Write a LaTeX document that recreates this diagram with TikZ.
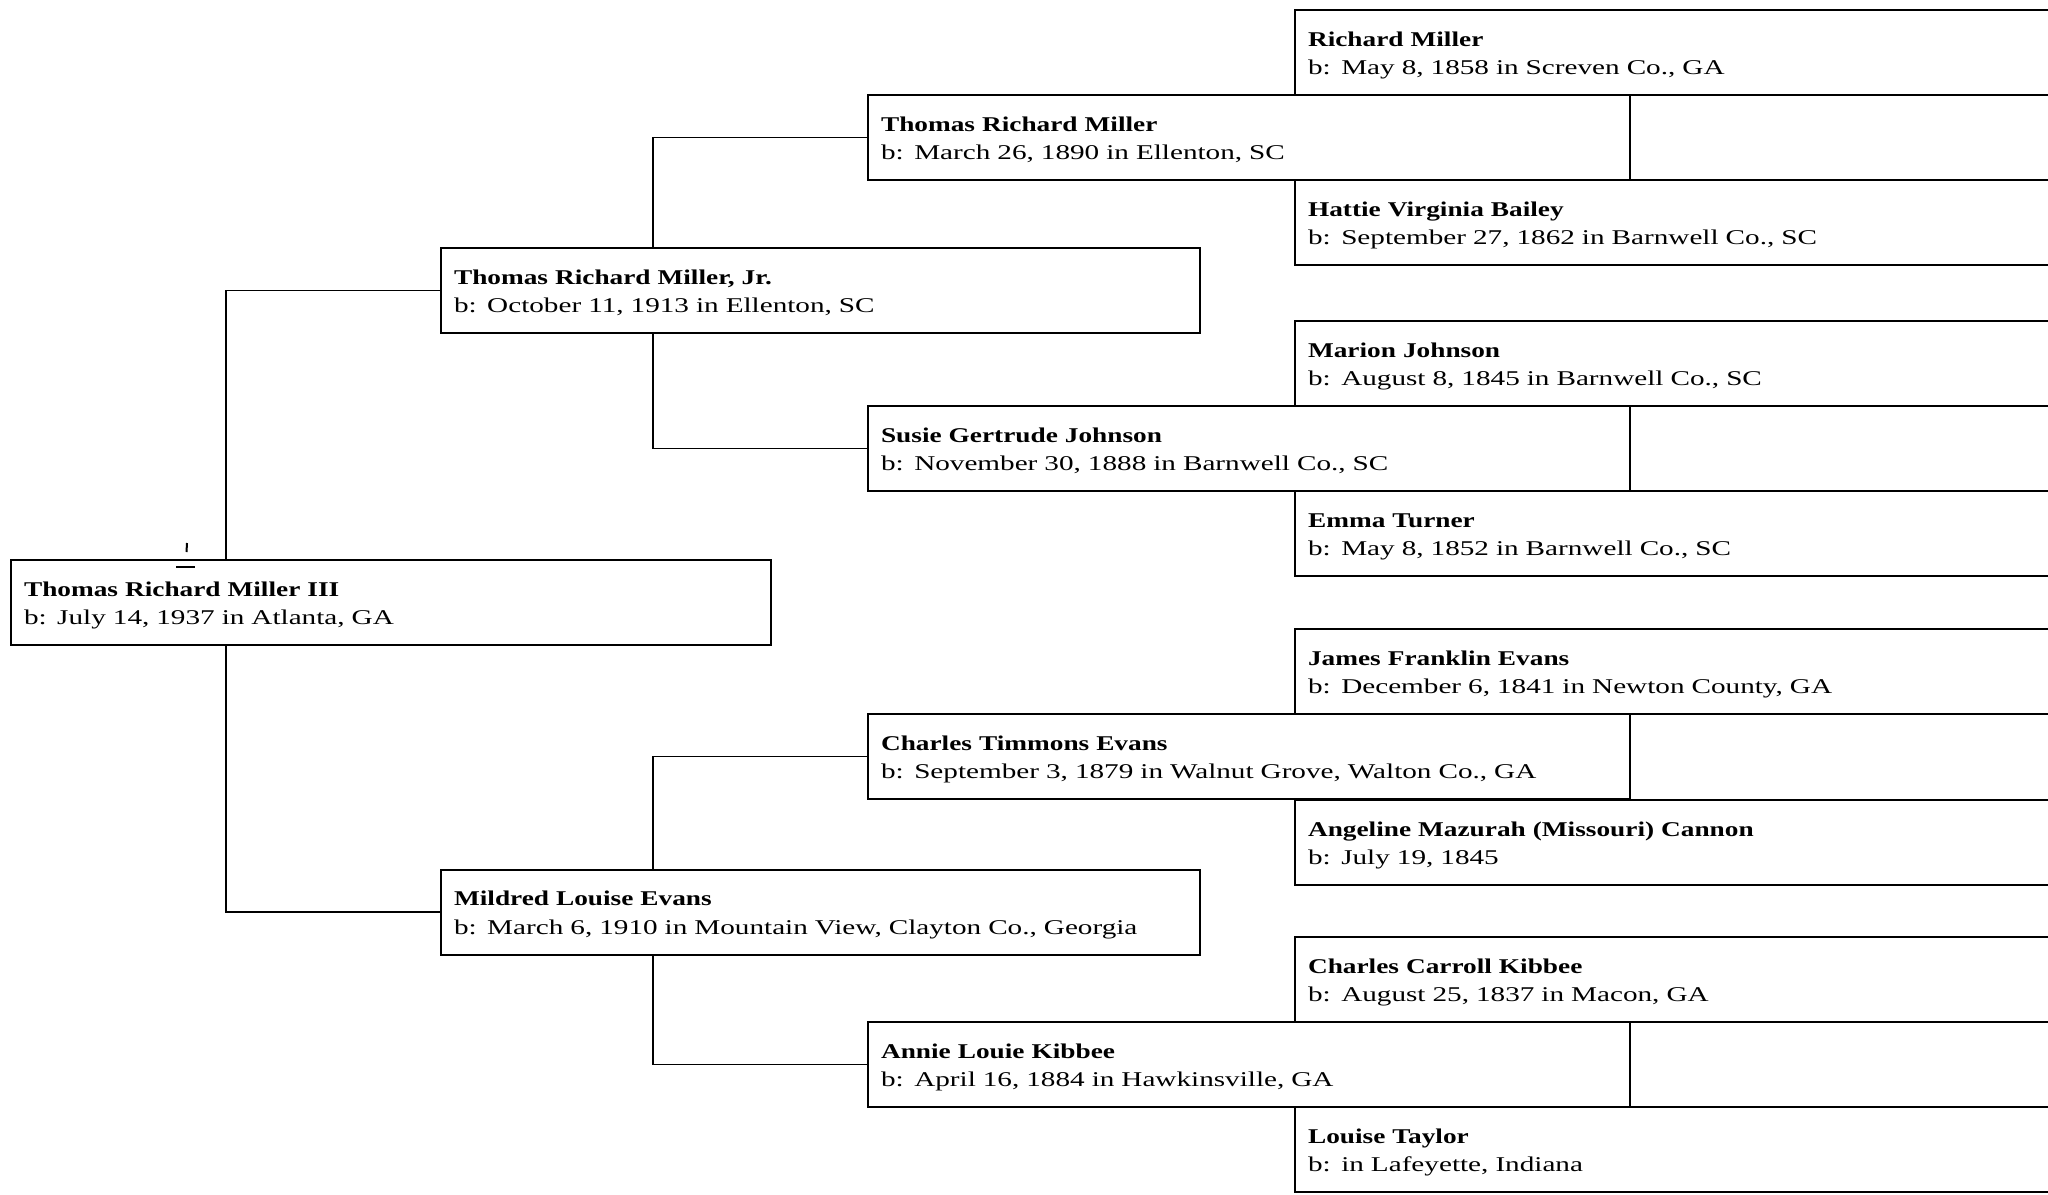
\documentclass[tikz,border=0pt]{standalone}
\usepackage{fontspec}
\setmainfont{Liberation Serif}[FakeStretch=1.39]
\newfontfamily\namefont{Liberation Serif}[FakeStretch=1.30]
\newcommand{\pname}[1]{{\namefont\bfseries #1}}
\begin{document}
\begin{tikzpicture}[x=0.5pt,y=-0.5pt,
  pbox/.style={draw, line width=1.05pt, rectangle, anchor=north west,
    inner xsep=6.5pt, inner ysep=0pt, minimum height=42.5pt,
    text height=9.9pt, text depth=16.4pt, align=left, text width=#1,
    font=\fontsize{10.5pt}{14.4pt}\selectfont},
  conn/.style={draw, line width=0.75pt}]
\clip (0,0) rectangle (2048,1194);
\fill[white] (0,0) rectangle (2048,1194);
% generation 0
\node[pbox=367pt] (root) at (10,559) {\pname{Thomas Richard Miller III}\\b: July 14, 1937 in Atlanta, GA};
% generation 1
\node[pbox=366.5pt] (jr) at (440,247) {\pname{Thomas Richard Miller, Jr.}\\b: October 11, 1913 in Ellenton, SC};
\node[pbox=366.5pt] (mil) at (440,868.5) {\pname{Mildred Louise Evans}\\b: March 6, 1910 in Mountain View, Clayton Co., Georgia};
% generation 3 (drawn first, open to the right)
\node[pbox=370pt] (g3a) at (1294,9) {\pname{Richard Miller}\\b: May 8, 1858 in Screven Co., GA};
\node[pbox=370pt] (g3b) at (1294,179) {\pname{Hattie Virginia Bailey}\\b: September 27, 1862 in Barnwell Co., SC};
\node[pbox=370pt] (g3c) at (1294,320) {\pname{Marion Johnson}\\b: August 8, 1845 in Barnwell Co., SC};
\node[pbox=370pt] (g3d) at (1294,490) {\pname{Emma Turner}\\b: May 8, 1852 in Barnwell Co., SC};
\node[pbox=370pt] (g3e) at (1294,628) {\pname{James Franklin Evans}\\b: December 6, 1841 in Newton County, GA};
\node[pbox=370pt] (g3f) at (1294,799) {\pname{Angeline Mazurah (Missouri) Cannon}\\b: July 19, 1845};
\node[pbox=370pt] (g3g) at (1294,936) {\pname{Charles Carroll Kibbee}\\b: August 25, 1837 in Macon, GA};
\node[pbox=370pt] (g3h) at (1294,1106) {\pname{Louise Taylor}\\b: in Lafeyette, Indiana};
% generation 2
\node[pbox=368pt] (trm) at (867,94) {\pname{Thomas Richard Miller}\\b: March 26, 1890 in Ellenton, SC};
\node[pbox=368pt] (sus) at (867,405) {\pname{Susie Gertrude Johnson}\\b: November 30, 1888 in Barnwell Co., SC};
\node[pbox=368pt] (cte) at (867,713) {\pname{Charles Timmons Evans}\\b: September 3, 1879 in Walnut Grove, Walton Co., GA};
\node[pbox=368pt] (ann) at (867,1021) {\pname{Annie Louie Kibbee}\\b: April 16, 1884 in Hawkinsville, GA};
% connectors
\coordinate (k0) at (226,0);
\coordinate (k1) at (653,0);
\draw[conn] (jr.west) -| (k0 |- root.north);
\draw[conn] (mil.west) -| (k0 |- root.south);
\draw[conn] (trm.west) -| (k1 |- jr.north);
\draw[conn] (sus.west) -| (k1 |- jr.south);
\draw[conn] (cte.west) -| (k1 |- mil.north);
\draw[conn] (ann.west) -| (k1 |- mil.south);
% small marks near the root name
\draw[line width=1pt] (187,543) -- (186.5,552);
\draw[line width=1.2pt] (176,567) -- (195,567);
\end{tikzpicture}
\end{document}
